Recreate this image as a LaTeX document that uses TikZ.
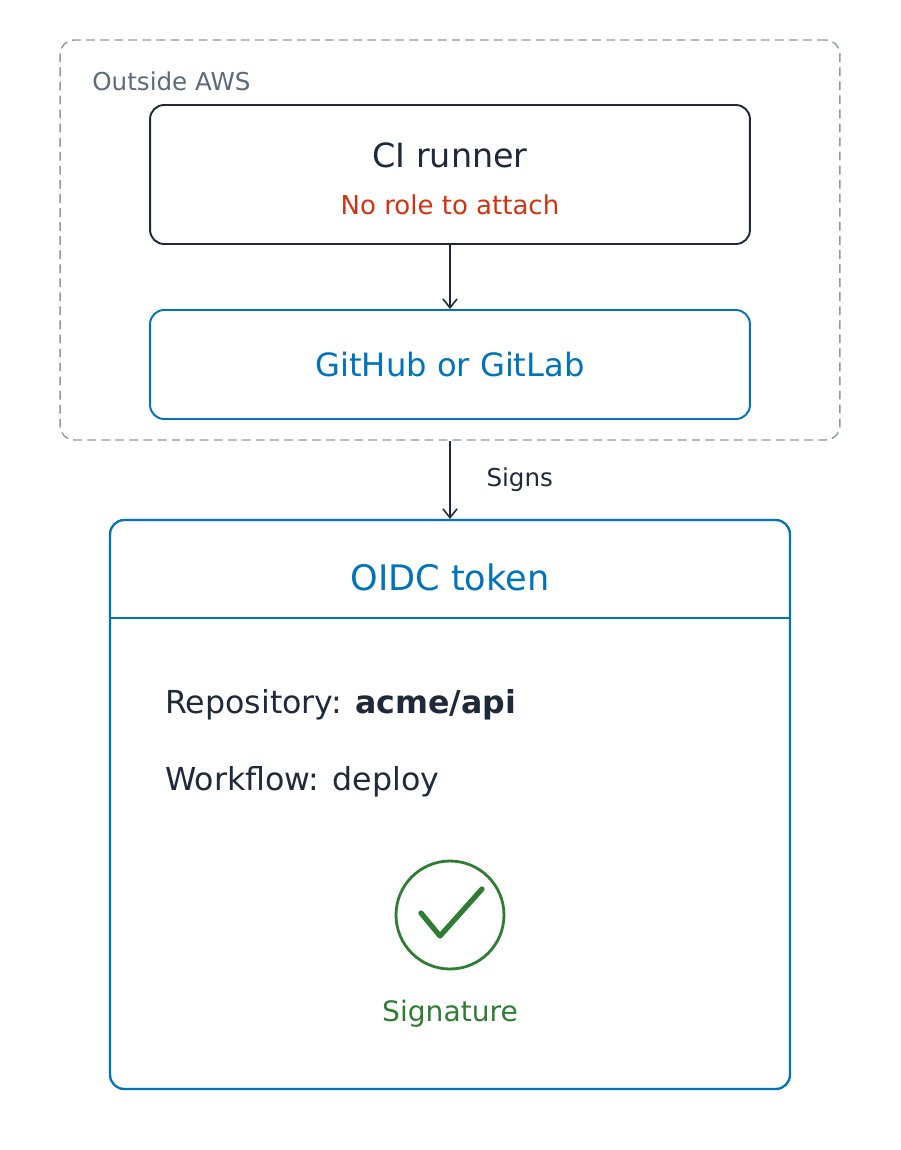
\documentclass[tikz,border=0pt]{standalone}
\usepackage{fontspec}
\setmainfont{DejaVu Sans}
\usetikzlibrary{arrows.meta,positioning}
\definecolor{ink}{HTML}{1E2A3A}
\definecolor{awsblue}{HTML}{0073BB}
\definecolor{mute}{HTML}{5A6B7D}
\definecolor{dash}{HTML}{8A9AA8}
\definecolor{warn}{HTML}{D13212}
\definecolor{okgreen}{HTML}{2E7D32}
\tikzset{
  box/.style={draw, rounded corners=8pt, line width=1.1pt, inner sep=0pt},
  flow/.style={draw=ink, line width=0.9pt, -{Straight Barb[length=5pt,width=8pt]}},
}
\begin{document}
\begin{tikzpicture}[x=0.02cm,y=-0.02cm]
\useasboundingbox (0,0) rectangle (900,1150);
% outside AWS
\node[box, draw=dash, dash pattern=on 5pt off 3pt, line width=0.8pt, minimum width=15.6cm, minimum height=8cm] (outside) at (450,240) {};
\node[anchor=west, inner sep=0pt, text=mute, font=\fontsize{14}{16}\selectfont] (outlabel) at (92,81) {Outside AWS};
\node[box, draw=ink, minimum width=12cm, minimum height=2.78cm] (runner) at (450,174.5) {};
\node[text=ink, font=\fontsize{19}{22}\selectfont] (runnertitle) at (450,155) {CI runner};
\node[text=warn, font=\fontsize{14.8}{17}\selectfont] (runnernote) at (450,205) {No role to attach};
\node[box, draw=awsblue, text=awsblue, minimum width=12cm, minimum height=2.18cm,
  font=\fontsize{18.3}{22}\selectfont] (git) at (450,364.5) {GitHub or GitLab};
\draw[flow] (runner.south) -- (git.north);
% token
\node[box, draw=awsblue, line width=1.3pt, minimum width=13.6cm, minimum height=11.38cm] (token) at (450,804.5) {};
\draw[flow] (outside.south) -- (token.north) node[midway, right=17pt, text=ink, font=\fontsize{14}{16}\selectfont] {Signs};
\coordinate (divl) at (110,618);
\coordinate (divr) at (790,618);
\draw[awsblue, line width=1.1pt] (divl) -- (divr);
\node[text=awsblue, font=\fontsize{20}{23}\selectfont] (tokentitle) at (450,577) {OIDC token};
\node[anchor=west, inner sep=0pt, text=ink, font=\fontsize{18}{21}\selectfont] (repo) at (165,705) {Repository: \textbf{acme/api}};
\node[anchor=west, inner sep=0pt, text=ink, font=\fontsize{18}{21}\selectfont] (workflow) at (165,782) {Workflow: deploy};
\node[circle, draw=okgreen, line width=1.6pt, minimum size=2.16cm] (seal) at (450,915) {};
\draw[okgreen, line width=3pt, line cap=round, line join=round] (421,913) -- (440,936) -- (482,889);
\node[text=okgreen, font=\fontsize{16}{19}\selectfont] (sig) at (450,1014) {Signature};
\end{tikzpicture}
\end{document}
